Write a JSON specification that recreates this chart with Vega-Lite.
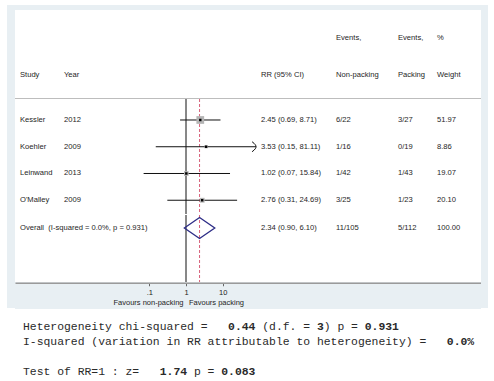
{
  "$schema": "https://vega.github.io/schema/vega-lite/v6.json",
  "padding": {"left": 7, "top": 5, "right": 6, "bottom": 0},
  "background": "white",
  "spacing": 0,
  "config": {
    "view": {"stroke": null},
    "concat": {"spacing": 0},
    "text": {"font": "Liberation Sans", "fontSize": 7.6, "color": "#1e1e1e", "align": "left", "baseline": "middle"}
  },
  "datasets": {
    "blank": [{"k": 0}],
    "studies": [
      {"id": "Kessler", "study": "Kessler", "year": "2012", "rr": 2.45, "lo": 0.69, "hi": 8.71, "ci": "2.45 (0.69, 8.71)", "np": "6/22", "pk": "3/27", "w": 51.97, "wt": "51.97"},
      {"id": "Koehler", "study": "Koehler", "year": "2009", "rr": 3.53, "lo": 0.15, "hi": 81.11, "ci": "3.53 (0.15, 81.11)", "np": "1/16", "pk": "0/19", "w": 8.86, "wt": "8.86"},
      {"id": "Leinwand", "study": "Leinwand", "year": "2013", "rr": 1.02, "lo": 0.07, "hi": 15.84, "ci": "1.02 (0.07, 15.84)", "np": "1/42", "pk": "1/43", "w": 19.07, "wt": "19.07"},
      {"id": "O'Malley", "study": "O'Malley", "year": "2009", "rr": 2.76, "lo": 0.31, "hi": 24.69, "ci": "2.76 (0.31, 24.69)", "np": "3/25", "pk": "1/23", "w": 20.10, "wt": "20.10"}
    ],
    "overall": [
      {"id": "Overall", "study": "Overall\u00a0 (I-squared = 0.0%, p = 0.931)", "rr": 2.34, "lo": 0.90, "hi": 6.10, "ci": "2.34 (0.90, 6.10)", "np": "11/105", "pk": "5/112", "wt": "100.00"}
    ],
    "header": [
      {"col": "study", "line": 2, "label": "Study"},
      {"col": "year", "line": 2, "label": "Year"},
      {"col": "rr", "line": 2, "label": "RR (95% CI)"},
      {"col": "np", "line": 1, "label": "Events,"},
      {"col": "np", "line": 2, "label": "Non-packing"},
      {"col": "pk", "line": 1, "label": "Events,"},
      {"col": "pk", "line": 2, "label": "Packing"},
      {"col": "wt", "line": 1, "label": "%"},
      {"col": "wt", "line": 2, "label": "Weight"}
    ],
    "fav": [
      {"side": "non", "label": "Favours non-packing"},
      {"side": "pk", "label": "Favours packing"}
    ],
    "footer": [
      {"line": "l1",
       "plain": "Heterogeneity\u00a0chi-squared\u00a0=\u00a0\u00a0\u00a0\u00a0\u00a0\u00a0\u00a0\u00a0(d.f.\u00a0=\u00a0\u00a0)\u00a0p\u00a0=",
       "bold": "\u200b\u00a0\u00a0\u00a0\u00a0\u00a0\u00a0\u00a0\u00a0\u00a0\u00a0\u00a0\u00a0\u00a0\u00a0\u00a0\u00a0\u00a0\u00a0\u00a0\u00a0\u00a0\u00a0\u00a0\u00a0\u00a0\u00a0\u00a0\u00a0\u00a0\u00a00.44\u00a0\u00a0\u00a0\u00a0\u00a0\u00a0\u00a0\u00a0\u00a03\u00a0\u00a0\u00a0\u00a0\u00a0\u00a00.931"},
      {"line": "l2",
       "plain": "I-squared (variation in RR attributable to heterogeneity) =",
       "bold": "\u200b\u00a0\u00a0\u00a0\u00a0\u00a0\u00a0\u00a0\u00a0\u00a0\u00a0\u00a0\u00a0\u00a0\u00a0\u00a0\u00a0\u00a0\u00a0\u00a0\u00a0\u00a0\u00a0\u00a0\u00a0\u00a0\u00a0\u00a0\u00a0\u00a0\u00a0\u00a0\u00a0\u00a0\u00a0\u00a0\u00a0\u00a0\u00a0\u00a0\u00a0\u00a0\u00a0\u00a0\u00a0\u00a0\u00a0\u00a0\u00a0\u00a0\u00a0\u00a0\u00a0\u00a0\u00a0\u00a0\u00a0\u00a0\u00a0\u00a0\u00a0\u00a0\u00a00.0%"},
      {"line": "l3",
       "plain": "Test\u00a0of\u00a0RR=1\u00a0:\u00a0z=\u00a0\u00a0\u00a0\u00a0\u00a0\u00a0\u00a0\u00a0p\u00a0=",
       "bold": "\u200b\u00a0\u00a0\u00a0\u00a0\u00a0\u00a0\u00a0\u00a0\u00a0\u00a0\u00a0\u00a0\u00a0\u00a0\u00a0\u00a0\u00a0\u00a0\u00a0\u00a01.74\u00a0\u00a0\u00a0\u00a0\u00a00.083"}
    ]
  },
  "vconcat": [
    {"width": 481, "height": 5, "view": {"fill": "#e8eff3", "stroke": null}, "data": {"name": "blank"}, "mark": {"type": "point", "size": 0, "opacity": 0, "strokeWidth": 0}},
    {"spacing": 0, "hconcat": [
      {"width": 8, "height": 298, "view": {"fill": "#e8eff3", "stroke": null}, "data": {"name": "blank"}, "mark": {"type": "point", "size": 0, "opacity": 0, "strokeWidth": 0}},
      {"spacing": 0, "vconcat": [
        {"spacing": 0, "hconcat": [
          {"width": 5, "height": 88, "data": {"name": "blank"}, "mark": {"type": "point", "size": 0, "opacity": 0, "strokeWidth": 0}},
          {"width": 44, "height": 88, "data": {"name": "header"}, "transform": [{"filter": "datum.col == 'study'"}], "mark": {"type": "text"},
           "encoding": {"x": {"value": 0}, "y": {"field": "line", "type": "ordinal", "scale": {"type": "point", "domain": [1, 2], "padding": 0.6892, "align": 0.549}, "axis": null}, "text": {"field": "label"}}},
          {"width": 197, "height": 88, "data": {"name": "header"}, "transform": [{"filter": "datum.col == 'year'"}], "mark": {"type": "text"},
           "encoding": {"x": {"value": 0}, "y": {"field": "line", "type": "ordinal", "scale": {"type": "point", "domain": [1, 2], "padding": 0.6892, "align": 0.549}, "axis": null}, "text": {"field": "label"}}},
          {"width": 75, "height": 88, "data": {"name": "header"}, "transform": [{"filter": "datum.col == 'rr'"}], "mark": {"type": "text"},
           "encoding": {"x": {"value": 0}, "y": {"field": "line", "type": "ordinal", "scale": {"type": "point", "domain": [1, 2], "padding": 0.6892, "align": 0.549}, "axis": null}, "text": {"field": "label"}}},
          {"width": 62, "height": 88, "data": {"name": "header"}, "transform": [{"filter": "datum.col == 'np'"}], "mark": {"type": "text"},
           "encoding": {"x": {"value": 0}, "y": {"field": "line", "type": "ordinal", "scale": {"type": "point", "domain": [1, 2], "padding": 0.6892, "align": 0.549}, "axis": null}, "text": {"field": "label"}}},
          {"width": 39, "height": 88, "data": {"name": "header"}, "transform": [{"filter": "datum.col == 'pk'"}], "mark": {"type": "text"},
           "encoding": {"x": {"value": 0}, "y": {"field": "line", "type": "ordinal", "scale": {"type": "point", "domain": [1, 2], "padding": 0.6892, "align": 0.549}, "axis": null}, "text": {"field": "label"}}},
          {"width": 44, "height": 88, "data": {"name": "header"}, "transform": [{"filter": "datum.col == 'wt'"}], "mark": {"type": "text"},
           "encoding": {"x": {"value": 0}, "y": {"field": "line", "type": "ordinal", "scale": {"type": "point", "domain": [1, 2], "padding": 0.6892, "align": 0.549}, "axis": null}, "text": {"field": "label"}}}
        ]},
        {"width": 466, "height": 1, "view": {"fill": "#bdbdbd", "stroke": null}, "data": {"name": "blank"}, "mark": {"type": "point", "size": 0, "opacity": 0, "strokeWidth": 0}},
        {"spacing": 0, "hconcat": [
          {"width": 5, "height": 115, "data": {"name": "blank"}, "mark": {"type": "point", "size": 0, "opacity": 0, "strokeWidth": 0}},
          {"width": 44, "height": 115, "data": {"name": "studies"}, "mark": {"type": "text"},
           "encoding": {"x": {"value": 0}, "y": {"field": "id", "type": "nominal", "scale": {"type": "point", "domain": ["Kessler", "Koehler", "Leinwand", "O'Malley"], "padding": 0.6495, "align": 0.604}, "axis": null}, "text": {"field": "study"}}},
          {"width": 48, "height": 115, "data": {"name": "studies"}, "mark": {"type": "text"},
           "encoding": {"x": {"value": 0}, "y": {"field": "id", "type": "nominal", "scale": {"type": "point", "domain": ["Kessler", "Koehler", "Leinwand", "O'Malley"], "padding": 0.6495, "align": 0.604}, "axis": null}, "text": {"field": "year"}}},
          {"width": 149, "height": 115, "layer": [
            {"data": {"name": "overall"}, "mark": {"type": "rule", "color": "#111111", "strokeWidth": 1, "clip": true},
             "encoding": {"x": {"datum": 1, "type": "quantitative", "scale": {"type": "log", "domain": [0.0096305, 110.56], "nice": false}, "axis": null}}},
            {"data": {"name": "overall"}, "mark": {"type": "rule", "color": "#d8607a", "strokeWidth": 1, "strokeDash": [3, 2], "clip": true},
             "encoding": {"x": {"field": "rr", "type": "quantitative", "scale": {"type": "log", "domain": [0.0096305, 110.56], "nice": false}, "axis": null}}},
            {"data": {"name": "studies"}, "mark": {"type": "rule", "color": "#111111", "strokeWidth": 1},
             "encoding": {"x": {"field": "lo", "type": "quantitative", "scale": {"type": "log", "domain": [0.0096305, 110.56], "nice": false}, "axis": null}, "x2": {"field": "hi"},
                          "y": {"field": "id", "type": "nominal", "scale": {"type": "point", "domain": ["Kessler", "Koehler", "Leinwand", "O'Malley"], "padding": 0.6495, "align": 0.604}, "axis": null}}},
            {"data": {"name": "studies"}, "mark": {"type": "point", "shape": "square", "filled": true, "color": "#b4b4b4", "opacity": 1, "strokeWidth": 0},
             "encoding": {"x": {"field": "rr", "type": "quantitative", "scale": {"type": "log", "domain": [0.0096305, 110.56], "nice": false}, "axis": null},
                          "y": {"field": "id", "type": "nominal", "scale": {"type": "point", "domain": ["Kessler", "Koehler", "Leinwand", "O'Malley"], "padding": 0.6495, "align": 0.604}, "axis": null},
                          "size": {"field": "w", "type": "quantitative", "scale": {"domain": [0, 100], "range": [0, 115]}, "legend": null}}},
            {"data": {"name": "studies"}, "mark": {"type": "point", "shape": "square", "filled": true, "color": "#000000", "opacity": 1, "size": 6, "strokeWidth": 0},
             "encoding": {"x": {"field": "rr", "type": "quantitative", "scale": {"type": "log", "domain": [0.0096305, 110.56], "nice": false}, "axis": null},
                          "y": {"field": "id", "type": "nominal", "scale": {"type": "point", "domain": ["Kessler", "Koehler", "Leinwand", "O'Malley"], "padding": 0.6495, "align": 0.604}, "axis": null}}},
            {"data": {"name": "studies"}, "transform": [{"filter": "datum.hi > 80"}],
             "mark": {"type": "point", "shape": "M-0.8,-1C-0.15,-0.55,0,-0.2,0,0C0,0.2,-0.15,0.55,-0.8,1", "filled": false, "color": "#111111", "opacity": 1, "size": 100, "strokeWidth": 1},
             "encoding": {"x": {"field": "hi", "type": "quantitative", "scale": {"type": "log", "domain": [0.0096305, 110.56], "nice": false}, "axis": null},
                          "y": {"field": "id", "type": "nominal", "scale": {"type": "point", "domain": ["Kessler", "Koehler", "Leinwand", "O'Malley"], "padding": 0.6495, "align": 0.604}, "axis": null}}}
          ]},
          {"width": 75, "height": 115, "data": {"name": "studies"}, "mark": {"type": "text"},
           "encoding": {"x": {"value": 0}, "y": {"field": "id", "type": "nominal", "scale": {"type": "point", "domain": ["Kessler", "Koehler", "Leinwand", "O'Malley"], "padding": 0.6495, "align": 0.604}, "axis": null}, "text": {"field": "ci"}}},
          {"width": 62, "height": 115, "data": {"name": "studies"}, "mark": {"type": "text"},
           "encoding": {"x": {"value": 0}, "y": {"field": "id", "type": "nominal", "scale": {"type": "point", "domain": ["Kessler", "Koehler", "Leinwand", "O'Malley"], "padding": 0.6495, "align": 0.604}, "axis": null}, "text": {"field": "np"}}},
          {"width": 39, "height": 115, "data": {"name": "studies"}, "mark": {"type": "text"},
           "encoding": {"x": {"value": 0}, "y": {"field": "id", "type": "nominal", "scale": {"type": "point", "domain": ["Kessler", "Koehler", "Leinwand", "O'Malley"], "padding": 0.6495, "align": 0.604}, "axis": null}, "text": {"field": "pk"}}},
          {"width": 44, "height": 115, "data": {"name": "studies"}, "mark": {"type": "text"},
           "encoding": {"x": {"value": 0}, "y": {"field": "id", "type": "nominal", "scale": {"type": "point", "domain": ["Kessler", "Koehler", "Leinwand", "O'Malley"], "padding": 0.6495, "align": 0.604}, "axis": null}, "text": {"field": "wt"}}}
        ]},
        {"spacing": 0, "hconcat": [
          {"width": 5, "height": 67, "data": {"name": "blank"}, "mark": {"type": "point", "size": 0, "opacity": 0, "strokeWidth": 0}},
          {"width": 135, "height": 67, "data": {"name": "overall"}, "mark": {"type": "text"},
           "encoding": {"x": {"value": 0}, "y": {"field": "id", "type": "nominal", "scale": {"type": "point", "domain": ["Overall"], "align": 0.194}, "axis": null}, "text": {"field": "study"}}},
          {"width": 106, "height": 67, "data": {"name": "overall"}, "layer": [
            {"mark": {"type": "rule", "color": "#111111", "strokeWidth": 1, "clip": true},
             "encoding": {"x": {"datum": 1, "type": "quantitative", "scale": {"type": "log", "domain": [0.14291, 110.56], "nice": false}, "axis": null}}},
            {"mark": {"type": "rule", "color": "#d8607a", "strokeWidth": 1, "strokeDash": [3, 2], "clip": true},
             "encoding": {"x": {"field": "rr", "type": "quantitative", "scale": {"type": "log", "domain": [0.14291, 110.56], "nice": false}, "axis": null}}},
            {"mark": {"type": "point", "shape": "M-1.45,0L0,-1L1.45,0L0,1Z", "size": 441, "filled": false, "color": "#2c2c86", "strokeWidth": 1.3, "opacity": 1},
             "encoding": {"x": {"field": "rr", "type": "quantitative", "scale": {"type": "log", "domain": [0.14291, 110.56], "nice": false}, "axis": null},
                          "y": {"field": "id", "type": "nominal", "scale": {"type": "point", "domain": ["Overall"], "align": 0.194}, "axis": null}}}
          ]},
          {"width": 75, "height": 67, "data": {"name": "overall"}, "mark": {"type": "text"},
           "encoding": {"x": {"value": 0}, "y": {"field": "id", "type": "nominal", "scale": {"type": "point", "domain": ["Overall"], "align": 0.194}, "axis": null}, "text": {"field": "ci"}}},
          {"width": 62, "height": 67, "data": {"name": "overall"}, "mark": {"type": "text"},
           "encoding": {"x": {"value": 0}, "y": {"field": "id", "type": "nominal", "scale": {"type": "point", "domain": ["Overall"], "align": 0.194}, "axis": null}, "text": {"field": "np"}}},
          {"width": 39, "height": 67, "data": {"name": "overall"}, "mark": {"type": "text"},
           "encoding": {"x": {"value": 0}, "y": {"field": "id", "type": "nominal", "scale": {"type": "point", "domain": ["Overall"], "align": 0.194}, "axis": null}, "text": {"field": "pk"}}},
          {"width": 44, "height": 67, "data": {"name": "overall"}, "mark": {"type": "text"},
           "encoding": {"x": {"value": 0}, "y": {"field": "id", "type": "nominal", "scale": {"type": "point", "domain": ["Overall"], "align": 0.194}, "axis": null}, "text": {"field": "wt"}}}
        ]},
        {"width": 466, "height": 27, "view": {"fill": "#e8eff3", "stroke": null}, "data": {"name": "fav"}, "layer": [
          {"transform": [{"filter": "datum.side == 'non'"}], "mark": {"type": "text", "align": "right", "dx": -2.5, "dy": 7.5, "fontSize": 7.5, "color": "#1e1e1e"},
           "encoding": {"x": {"datum": 1, "type": "quantitative", "scale": {"type": "log", "domain": [2.191e-5, 1.0918e8], "nice": false},
                              "axis": {"orient": "bottom", "offset": -26.25, "values": [0.1, 1, 10], "labelExpr": "replace(format(datum.value, '~g'), '0.', '.')", "title": null, "grid": false,
                                       "domainColor": "#9a9a9a", "domainWidth": 1.5, "tickColor": "#666666", "tickSize": 3, "tickWidth": 1,
                                       "labelFont": "Liberation Sans", "labelFontSize": 7.5, "labelColor": "#222222", "labelPadding": 3}},
                        "text": {"field": "label"}}},
          {"transform": [{"filter": "datum.side == 'pk'"}], "mark": {"type": "text", "align": "left", "dx": 3, "dy": 7.5, "fontSize": 7.5, "color": "#1e1e1e"},
           "encoding": {"x": {"datum": 1, "type": "quantitative", "scale": {"type": "log", "domain": [2.191e-5, 1.0918e8], "nice": false}},
                        "text": {"field": "label"}}}
        ]}
      ]},
      {"width": 7, "height": 298, "view": {"fill": "#e8eff3", "stroke": null}, "data": {"name": "blank"}, "mark": {"type": "point", "size": 0, "opacity": 0, "strokeWidth": 0}}
    ]},
    {"spacing": 0, "hconcat": [
      {"width": 16, "height": 73, "data": {"name": "blank"}, "mark": {"type": "point", "size": 0, "opacity": 0, "strokeWidth": 0}},
      {"width": 465, "height": 73, "data": {"name": "footer"}, "layer": [
        {"mark": {"type": "text", "font": "Liberation Mono", "fontSize": 11.4, "color": "#2a2a2a"},
         "encoding": {"x": {"value": 0}, "y": {"field": "line", "type": "nominal", "scale": {"type": "point", "domain": ["l1", "l2", "gap", "l3"], "padding": 0.9333, "align": 0.643}, "axis": null}, "text": {"field": "plain"}}},
        {"mark": {"type": "text", "font": "Liberation Mono", "fontSize": 11.4, "fontWeight": "bold", "color": "#2a2a2a"},
         "encoding": {"x": {"value": 0}, "y": {"field": "line", "type": "nominal", "scale": {"type": "point", "domain": ["l1", "l2", "gap", "l3"], "padding": 0.9333, "align": 0.643}, "axis": null}, "text": {"field": "bold"}}}
      ]}
    ]}
  ]
}
